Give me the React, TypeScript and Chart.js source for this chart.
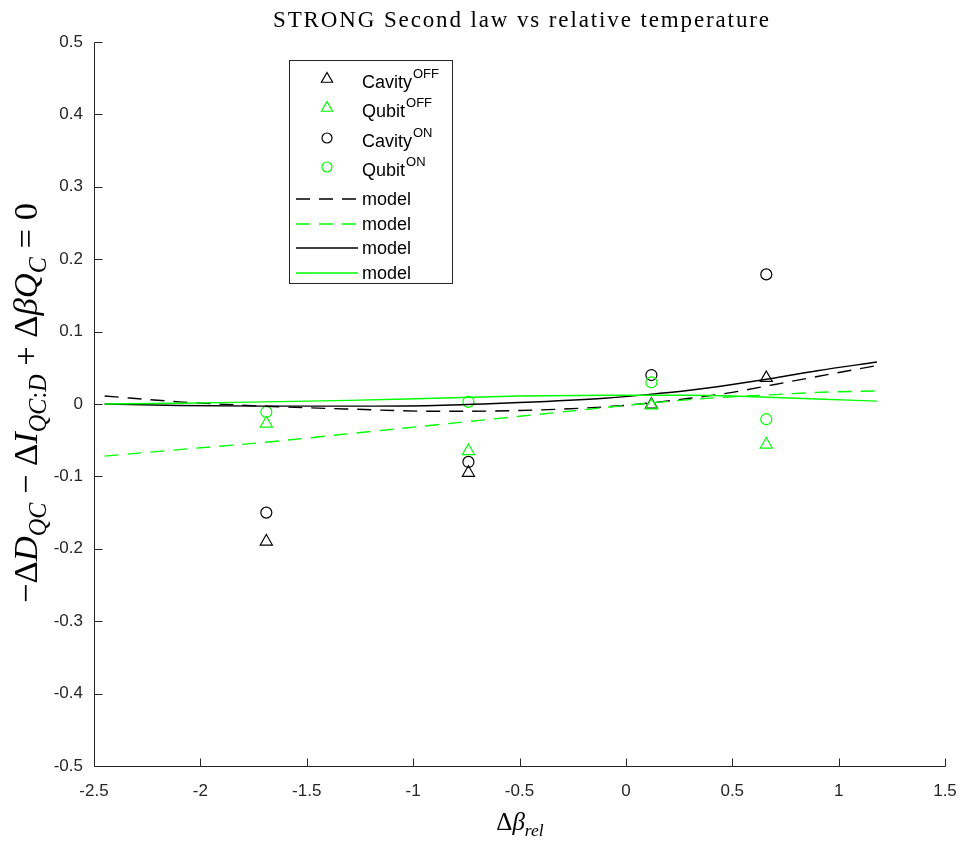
import React, { useEffect, useRef } from "react";
import { Chart, registerables } from "chart.js";

Chart.register(...registerables);

// ---------------- data ----------------
const X_TICKS = [-2.5, -2, -1.5, -1, -0.5, 0, 0.5, 1, 1.5];
const Y_TICKS = [-0.5, -0.4, -0.3, -0.2, -0.1, 0, 0.1, 0.2, 0.3, 0.4, 0.5];

const measX = [-1.69, -0.74, 0.12, 0.66];
const cavityOff = [-0.19, -0.095, -0.001, 0.036];
const qubitOff = [-0.027, -0.065, -0.002, -0.056];
const cavityOn = [-0.15, -0.08, 0.04, 0.179];
const qubitOn = [-0.011, 0.003, 0.03, -0.021];

const modelX = [-2.45, -2.1, -1.7, -1.3, -0.9, -0.5, -0.1, 0.1, 0.3, 0.5, 0.7, 0.9, 1.18];
const modelCavityOff = [0.011, 0.003, -0.003, -0.007, -0.01, -0.009, -0.004, 0.001, 0.008, 0.016, 0.027, 0.038, 0.053];
const modelQubitOff = [-0.072, -0.063, -0.053, -0.041, -0.029, -0.017, -0.005, 0.001, 0.006, 0.01, 0.013, 0.016, 0.018];
const modelCavityOn = [0.0, -0.002, -0.003, -0.003, -0.002, 0.002, 0.008, 0.013, 0.019, 0.027, 0.036, 0.046, 0.058];
const modelQubitOn = [0.0, 0.001, 0.003, 0.005, 0.008, 0.011, 0.012, 0.012, 0.012, 0.011, 0.009, 0.007, 0.004];

const legendNames = ["Cavity", "Qubit", "Cavity", "Qubit", "model", "model", "model", "model"];
const legendSups = ["OFF", "OFF", "ON", "ON", "", "", "", ""];

const TITLE = "STRONG Second law vs relative temperature";

// ---------------- styles ----------------
const GREEN = "#00ff00";
const BLACK = "#000000";
const AXIS = "#262626";
const SANS = "'Liberation Sans', Arial, Helvetica, sans-serif";
const SERIF = "'Liberation Serif', 'Times New Roman', serif";
const DASH = [14, 9];

type Seg = { t: string; it?: boolean; sub?: boolean; sup?: boolean };

const yLabelSegs: Seg[] = [
  { t: "−" }, { t: "Δ" }, { t: "D", it: true }, { t: "QC", it: true, sub: true },
  { t: " − " }, { t: "Δ" }, { t: "I", it: true }, { t: "QC", it: true, sub: true },
  { t: ":", sub: true }, { t: "D", it: true, sub: true },
  { t: " + " }, { t: "Δ" }, { t: "β", it: true }, { t: "Q", it: true }, { t: "C", it: true, sub: true },
  { t: " = " }, { t: "0" },
];
const xLabelSegs: Seg[] = [{ t: "Δ" }, { t: "β", it: true }, { t: "rel", it: true, sub: true }];

function segFont(s: Seg, size: number) {
  const sz = s.sub || s.sup ? size * 0.7 : size;
  return `${s.it ? "italic " : ""}${sz}px ${SERIF}`;
}
function richWidth(ctx: CanvasRenderingContext2D, segs: Seg[], size: number) {
  let w = 0;
  for (const s of segs) {
    ctx.font = segFont(s, size);
    w += ctx.measureText(s.t).width;
  }
  return w;
}
function drawRich(ctx: CanvasRenderingContext2D, segs: Seg[], cx: number, base: number, size: number) {
  const w = richWidth(ctx, segs, size);
  let x = cx - w / 2;
  ctx.textAlign = "left";
  ctx.textBaseline = "alphabetic";
  for (const s of segs) {
    ctx.font = segFont(s, size);
    const dy = s.sub ? size * 0.25 : s.sup ? -size * 0.4 : 0;
    ctx.fillText(s.t, x, base + dy);
    x += ctx.measureText(s.t).width;
  }
}

function pts(xs: number[], ys: number[]) {
  return xs.map((x, i) => ({ x, y: ys[i] }));
}

function drawTri(ctx: CanvasRenderingContext2D, x: number, y: number, r: number) {
  ctx.beginPath();
  for (let k = 0; k < 3; k++) {
    const a = (k * 2 * Math.PI) / 3;
    const px = x + Math.sin(a) * r;
    const py = y - Math.cos(a) * r;
    if (k === 0) ctx.moveTo(px, py);
    else ctx.lineTo(px, py);
  }
  ctx.closePath();
  ctx.stroke();
}
function drawCirc(ctx: CanvasRenderingContext2D, x: number, y: number, r: number) {
  ctx.beginPath();
  ctx.arc(x, y, r, 0, Math.PI * 2);
  ctx.stroke();
}

const decorPlugin = {
  id: "decor",
  beforeDraw(chart: any) {
    const ctx = chart.ctx as CanvasRenderingContext2D;
    ctx.save();
    ctx.fillStyle = "#ffffff";
    ctx.fillRect(0, 0, chart.width, chart.height);
    ctx.restore();
  },
  afterDraw(chart: any) {
    const ctx = chart.ctx as CanvasRenderingContext2D;
    const { left, bottom } = chart.chartArea;
    const xs = chart.scales.x;
    const ys = chart.scales.y;
    ctx.save();

    // axes lines (left + bottom only)
    ctx.strokeStyle = AXIS;
    ctx.lineWidth = 1;
    ctx.setLineDash([]);
    const L = Math.round(left) + 0.5;
    const B = Math.round(bottom) + 0.5;
    const xEnd = Math.round(xs.getPixelForValue(1.5)) + 0.5;
    const yTop = Math.round(ys.getPixelForValue(0.5)) + 0.5;
    ctx.beginPath();
    ctx.moveTo(L, yTop);
    ctx.lineTo(L, B);
    ctx.lineTo(xEnd, B);
    // inward ticks
    for (const v of X_TICKS) {
      const px = Math.round(xs.getPixelForValue(v)) + 0.5;
      ctx.moveTo(px, B);
      ctx.lineTo(px, B - 8);
    }
    for (const v of Y_TICKS) {
      const py = Math.round(ys.getPixelForValue(v)) + 0.5;
      ctx.moveTo(L, py);
      ctx.lineTo(L + 8, py);
    }
    ctx.stroke();

    // title (serif, spread slightly to the reference width)
    ctx.fillStyle = "#000000";
    const tSize = 23;
    ctx.font = `${tSize}px ${SERIF}`;
    const tw = ctx.measureText(TITLE).width;
    const spacing = Math.max(0, (496 - tw) / (TITLE.length - 1));
    ctx.textAlign = "left";
    ctx.textBaseline = "alphabetic";
    {
      let x = 521 - Math.max(tw, 496) / 2;
      for (const ch of TITLE) {
        ctx.fillText(ch, x, 27);
        x += ctx.measureText(ch).width + spacing;
      }
    }

    // x label
    drawRich(ctx, xLabelSegs, 520, 830, 25);

    // y label (rotated)
    const yw100 = richWidth(ctx, yLabelSegs, 100);
    const ySize = (400 / yw100) * 100;
    ctx.save();
    ctx.translate(37, 403);
    ctx.rotate(-Math.PI / 2);
    drawRich(ctx, yLabelSegs, 0, 0, ySize);
    ctx.restore();

    // legend
    ctx.fillStyle = "#ffffff";
    ctx.fillRect(289.5, 60.5, 163, 223);
    ctx.strokeStyle = AXIS;
    ctx.lineWidth = 1;
    ctx.strokeRect(289.5, 60.5, 163, 223);

    const rowY = [79, 108, 138, 167, 199, 224, 248, 273];
    const colors = [BLACK, GREEN, BLACK, GREEN, BLACK, GREEN, BLACK, GREEN];
    for (let i = 0; i < 8; i++) {
      const y = rowY[i];
      ctx.strokeStyle = colors[i];
      if (i < 2) {
        ctx.lineWidth = 1.2;
        drawTri(ctx, 327, y, 6.5);
      } else if (i < 4) {
        ctx.lineWidth = 1.2;
        drawCirc(ctx, 327, y, 5);
      } else {
        ctx.lineWidth = 1.5;
        ctx.setLineDash(i < 6 ? DASH : []);
        ctx.beginPath();
        ctx.moveTo(296, y);
        ctx.lineTo(358, y);
        ctx.stroke();
        ctx.setLineDash([]);
      }
      ctx.fillStyle = "#000000";
      ctx.textAlign = "left";
      ctx.textBaseline = "alphabetic";
      ctx.font = `18px ${SANS}`;
      const base = i < 4 ? y + 9 : y + 6;
      ctx.fillText(legendNames[i], 362, base);
      if (legendSups[i]) {
        const w = ctx.measureText(legendNames[i]).width;
        ctx.font = `13px ${SANS}`;
        ctx.fillText(legendSups[i], 362 + w + 1, base - 10);
      }
    }
    ctx.restore();
  },
};

export default function App() {
  const ref = useRef<HTMLCanvasElement | null>(null);

  useEffect(() => {
    if (!ref.current) return;
    const marker = (label: string, ys: number[], color: string, style: string, r: number, i: number) => ({
      label,
      data: pts(measX, ys),
      showLine: false,
      pointStyle: style,
      pointRadius: r,
      pointHoverRadius: r,
      pointBorderWidth: 1.2,
      pointBorderColor: color,
      pointBackgroundColor: "rgba(0,0,0,0)",
      borderColor: color,
      backgroundColor: "rgba(0,0,0,0)",
      order: 20 - i,
    });
    const model = (label: string, ys: number[], color: string, dashed: boolean, i: number) => ({
      label,
      data: pts(modelX, ys),
      showLine: true,
      pointRadius: 0,
      pointHoverRadius: 0,
      borderColor: color,
      backgroundColor: color,
      borderWidth: 1.4,
      borderDash: dashed ? DASH : [],
      cubicInterpolationMode: "monotone",
      fill: false,
      order: 20 - i,
    });

    const chart = new Chart(ref.current, {
      type: "scatter",
      data: {
        datasets: [
          marker("Cavity OFF", cavityOff, BLACK, "triangle", 7, 0),
          marker("Qubit OFF", qubitOff, GREEN, "triangle", 7, 1),
          marker("Cavity ON", cavityOn, BLACK, "circle", 5.5, 2),
          marker("Qubit ON", qubitOn, GREEN, "circle", 5.5, 3),
          model("model", modelCavityOff, BLACK, true, 4),
          model("model", modelQubitOff, GREEN, true, 5),
          model("model", modelCavityOn, BLACK, false, 6),
          model("model", modelQubitOn, GREEN, false, 7),
        ] as any,
      },
      options: {
        responsive: false,
        animation: false,
        devicePixelRatio: 1,
        layout: { padding: { top: 42, right: 20, left: 0, bottom: 0 } },
        plugins: {
          legend: { display: false },
          title: { display: false },
          tooltip: { enabled: false },
        },
        events: [],
        scales: {
          x: {
            type: "linear",
            min: -2.5,
            max: 1.5,
            afterBuildTicks: (s: any) => {
              s.ticks = X_TICKS.map((v) => ({ value: v }));
            },
            afterFit: (s: any) => {
              s.height = 78;
              s.paddingLeft = 0;
              s.paddingRight = 0;
            },
            grid: { display: false, drawTicks: false },
            border: { display: false },
            ticks: {
              color: AXIS,
              font: { family: SANS, size: 17 },
              padding: 15,
              maxRotation: 0,
              autoSkip: false,
              callback: (v: any) => String(Number(Number(v).toFixed(2))),
            },
          },
          y: {
            type: "linear",
            min: -0.5,
            max: 0.5,
            afterBuildTicks: (s: any) => {
              s.ticks = Y_TICKS.map((v) => ({ value: v }));
            },
            afterFit: (s: any) => {
              s.width = 94;
              s.paddingTop = 0;
              s.paddingBottom = 0;
            },
            grid: { display: false, drawTicks: false },
            border: { display: false },
            ticks: {
              color: AXIS,
              font: { family: SANS, size: 17 },
              padding: 11,
              autoSkip: false,
              callback: (v: any) => String(Number(Number(v).toFixed(2))),
            },
          },
        },
      } as any,
      plugins: [decorPlugin],
    });
    return () => chart.destroy();
  }, []);

  return (
    <div style={{ position: "absolute", left: 0, top: 0, width: 965, height: 844, background: "#fff" }}>
      <canvas ref={ref} width={965} height={844} style={{ display: "block", width: 965, height: 844 }} />
    </div>
  );
}
